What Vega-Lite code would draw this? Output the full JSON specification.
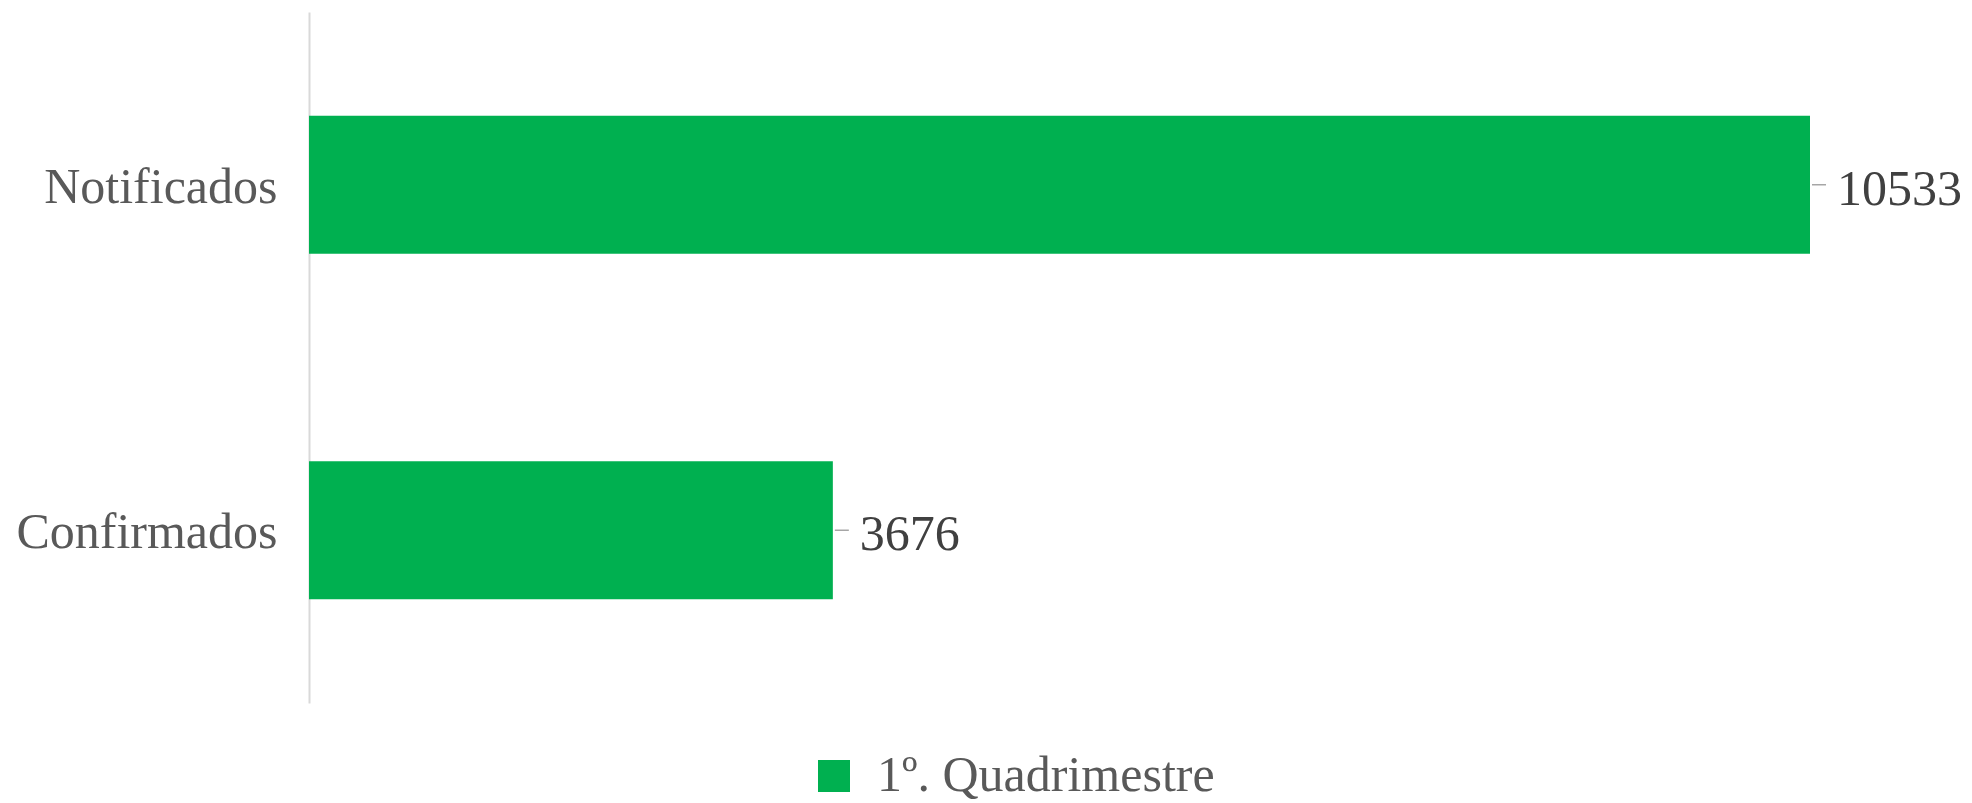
{
  "$schema": "https://vega.github.io/schema/vega-lite/v6.json",
  "autosize": "none",
  "width": 1501,
  "height": 691,
  "padding": {"left": 309, "top": 12, "right": 162, "bottom": 100},
  "background": "white",
  "config": {"view": {"stroke": null}, "font": "Liberation Serif"},
  "data": {"values": [
    {"categoria": "Notificados", "serie": "1º. Quadrimestre", "valor": 10533},
    {"categoria": "Confirmados", "serie": "1º. Quadrimestre", "valor": 3676}
  ]},
  "encoding": {
    "y": {"field": "categoria", "type": "nominal", "sort": ["Notificados", "Confirmados"],
      "scale": {"paddingInner": 0.6, "paddingOuter": 0.3},
      "axis": {"title": null, "ticks": false, "grid": false, "domainColor": "#d9d9d9", "domainWidth": 2,
        "labelFont": "Liberation Serif", "labelFontSize": 50, "labelColor": "#595959", "labelPadding": 32,
        "labelLimit": 0, "labelOffset": 3}}
  },
  "layer": [
    {
      "mark": {"type": "bar", "color": "#00b050"},
      "encoding": {
        "x": {"field": "valor", "type": "quantitative", "scale": {"domain": [0, 10533], "nice": false}, "axis": null},
        "color": {"field": "serie", "type": "nominal", "scale": {"range": ["#00b050"]},
          "legend": {"title": null, "orient": "none", "legendX": 500, "legendY": 739, "padding": 0,
            "symbolType": "square", "symbolSize": 1024, "symbolStrokeWidth": 0, "symbolOpacity": 1,
            "labelFont": "Liberation Serif", "labelFontSize": 50, "labelColor": "#595959", "labelOffset": 18,
            "labelLimit": 0}}
      }
    },
    {
      "mark": {"type": "rule", "color": "#a6a6a6", "strokeWidth": 1.5, "xOffset": 2, "x2Offset": 16},
      "encoding": {
        "x": {"field": "valor", "type": "quantitative"},
        "x2": {"field": "valor"}
      }
    },
    {
      "mark": {"type": "text", "align": "left", "baseline": "middle", "dx": 27, "dy": 5, "fontSize": 50, "font": "Liberation Serif", "color": "#404040"},
      "encoding": {
        "x": {"field": "valor", "type": "quantitative"},
        "text": {"field": "valor", "type": "quantitative", "format": "d"}
      }
    }
  ]
}
